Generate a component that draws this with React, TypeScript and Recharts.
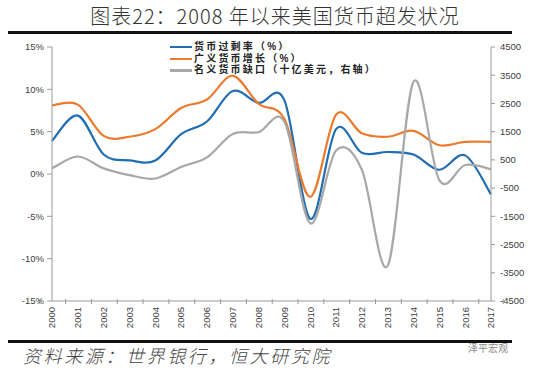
import React from 'react';
import { LineChart, Line, XAxis, YAxis } from 'recharts';

// 年份
const years = ['2000', '2001', '2002', '2003', '2004', '2005', '2006', '2007', '2008', '2009', '2010', '2011', '2012', '2013', '2014', '2015', '2016', '2017'];
// 货币过剩率（%）
const excessRate = [3.9, 6.9, 2.3, 1.6, 1.6, 4.7, 6.2, 9.8, 8.4, 8.7, -5.3, 5.3, 2.5, 2.6, 2.3, 0.5, 2.2, -2.4];
// 广义货币增长（%）
const m2Growth = [8.1, 8.2, 4.5, 4.4, 5.3, 7.8, 8.8, 11.6, 8.3, 6.5, -2.7, 7.0, 4.8, 4.4, 5.1, 3.4, 3.8, 3.8];
// 名义货币缺口（十亿美元，右轴）
const moneyGap = [200, 620, 200, -40, -160, 250, 590, 1420, 1480, 1850, -1750, 830, 150, -3250, 3270, -220, 320, 170];

const leftTicks = [-15, -10, -5, 0, 5, 10, 15];
const rightTicks = [-4500, -3500, -2500, -1500, -500, 500, 1500, 2500, 3500, 4500];

const series = [
    { key: 'excess', name: '货币过剩率（%）', color: '#1f6db3', axis: 'left' },
    { key: 'm2', name: '广义货币增长（%）', color: '#ec7a2c', axis: 'left' },
    { key: 'gap', name: '名义货币缺口（十亿美元，右轴）', color: '#a8a8a8', axis: 'right' },
];

const data = years.map((year, i) => ({
    year,
    excess: excessRate[i],
    m2: m2Growth[i],
    gap: moneyGap[i],
}));

// Excel-style smoothed line (Catmull-Rom through every point)
const excelCurve = (context: any) => {
    let pts: [number, number][] = [];
    return {
        areaStart() {},
        areaEnd() {},
        lineStart() {
            pts = [];
        },
        lineEnd() {
            if (!pts.length) return;
            context.moveTo(pts[0][0], pts[0][1]);
            for (let i = 0; i < pts.length - 1; i++) {
                const p0 = pts[i - 1] || pts[i];
                const p1 = pts[i];
                const p2 = pts[i + 1];
                const p3 = pts[i + 2] || p2;
                context.bezierCurveTo(
                    p1[0] + (p2[0] - p0[0]) / 6,
                    p1[1] + (p2[1] - p0[1]) / 6,
                    p2[0] - (p3[0] - p1[0]) / 6,
                    p2[1] - (p3[1] - p1[1]) / 6,
                    p2[0],
                    p2[1]
                );
            }
        },
        point(x: number, y: number) {
            pts.push([x, y]);
        },
    };
};

const axisFont = 'Arial, "Liberation Sans", sans-serif';

const YearTick = (props: any) => {
    const { x, y, payload, index } = props;
    const half = payload && payload.offset ? payload.offset : 12.2;
    return (
        <g>
            <line x1={x - half} y1={y - 8} x2={x - half} y2={y - 3} stroke="#9a9a9a" />
            {index === years.length - 1 && (
                <line x1={x + half} y1={y - 8} x2={x + half} y2={y - 3} stroke="#9a9a9a" />
            )}
            <text
                transform={`translate(${x},${y}) rotate(-90)`}
                textAnchor="end"
                dy="0.35em"
                fontSize={9.5}
                fill="#404040"
                fontFamily={axisFont}
            >
                {payload.value}
            </text>
        </g>
    );
};

export default function App() {
    return (
        <div style={{ position: 'absolute', left: 0, top: 0, width: 550, height: 378, background: '#fff', overflow: 'hidden' }}>
            <div
                style={{
                    position: 'absolute',
                    left: 0,
                    width: 550,
                    top: 3,
                    textAlign: 'center',
                    fontFamily: '"Noto Sans CJK SC", sans-serif',
                    fontSize: 20,
                    fontWeight: 300,
                    color: '#333',
                    letterSpacing: 1,
                    lineHeight: '26px',
                }}
            >
                图表22：2008 年以来美国货币超发状况
            </div>
            <div style={{ position: 'absolute', left: 8, top: 31, width: 504, height: 2.5, background: '#111' }} />

            <LineChart width={550} height={378} data={data} margin={{ top: 47, right: 9, bottom: 37, left: 8 }} style={{ position: 'absolute', left: 0, top: 0 }}>
                <XAxis
                    dataKey="year"
                    interval={0}
                    tickLine={false}
                    tick={<YearTick />}
                    height={40}
                    tickMargin={0}
                    axisLine={{ stroke: '#9a9a9a' }}
                />
                <YAxis
                    yAxisId="left"
                    domain={[-15, 15]}
                    ticks={leftTicks}
                    tickFormatter={(v: number) => `${v}%`}
                    width={44}
                    tickSize={5}
                    tickMargin={3}
                    axisLine={{ stroke: '#9a9a9a' }}
                    tickLine={{ stroke: '#9a9a9a' }}
                    tick={{ fontSize: 9.5, fill: '#404040', fontFamily: axisFont }}
                />
                <YAxis
                    yAxisId="right"
                    orientation="right"
                    domain={[-4500, 4500]}
                    ticks={rightTicks}
                    width={50}
                    tickSize={4}
                    tickMargin={5}
                    axisLine={{ stroke: '#9a9a9a' }}
                    tickLine={{ stroke: '#9a9a9a' }}
                    tick={{ fontSize: 9.5, fill: '#404040', fontFamily: axisFont, textAnchor: 'start' }}
                />
                {series.map((s) => (
                    <Line
                        key={s.key}
                        yAxisId={s.axis}
                        dataKey={s.key}
                        name={s.name}
                        type={excelCurve as any}
                        stroke={s.color}
                        strokeWidth={2.2}
                        dot={false}
                        activeDot={false}
                        isAnimationActive={false}
                    />
                ))}
            </LineChart>

            <div style={{ position: 'absolute', left: 170, top: 41, fontFamily: '"Liberation Sans", "Noto Sans CJK SC", sans-serif' }}>
                {series.map((s) => (
                    <div key={s.key} style={{ display: 'flex', alignItems: 'center', height: 11.8 }}>
                        <span style={{ display: 'inline-block', width: 22, height: 2.2, background: s.color, marginRight: 2 }} />
                        <span style={{ fontSize: 10, fontWeight: 700, color: '#222', letterSpacing: 2.2, lineHeight: '10px' }}>{s.name}</span>
                    </div>
                ))}
            </div>

            <div style={{ position: 'absolute', left: 8, top: 340, width: 504, height: 2.5, background: '#111' }} />
            <div
                style={{
                    position: 'absolute',
                    left: 23,
                    top: 344,
                    fontFamily: '"Noto Sans CJK SC", sans-serif',
                    fontStyle: 'italic',
                    fontWeight: 300,
                    fontSize: 18,
                    letterSpacing: 2.6,
                    color: '#444',
                    lineHeight: '22px',
                }}
            >
                资料来源：世界银行，恒大研究院
            </div>
            <div
                style={{
                    position: 'absolute',
                    left: 468,
                    top: 341,
                    fontFamily: '"Noto Sans CJK SC", sans-serif',
                    fontSize: 10,
                    color: '#8a8a8a',
                    lineHeight: '14px',
                }}
            >
                泽平宏观
            </div>
        </div>
    );
}
